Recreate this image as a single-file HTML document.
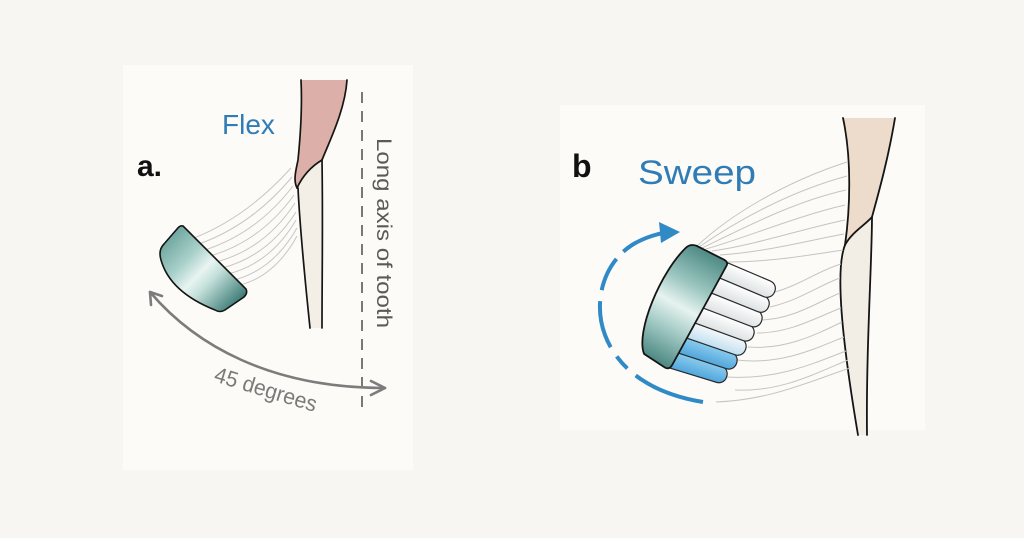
<!DOCTYPE html>
<html>
<head>
<meta charset="utf-8">
<style>
  html,body{margin:0;padding:0;background:#f7f6f3;}
  body{width:1024px;height:538px;overflow:hidden;}
  svg{display:block;}
  text{font-family:"Liberation Sans",Arial,sans-serif;}
</style>
</head>
<body>
<svg width="1024" height="538" viewBox="0 0 1024 538" xmlns="http://www.w3.org/2000/svg">
  <defs>
    <linearGradient id="headA" gradientUnits="userSpaceOnUse" x1="170" y1="236" x2="238" y2="302">
      <stop offset="0" stop-color="#6fa7a0"/>
      <stop offset="0.3" stop-color="#a9d0ca"/>
      <stop offset="0.5" stop-color="#e8f4f1"/>
      <stop offset="0.64" stop-color="#c3dfda"/>
      <stop offset="1" stop-color="#3f7d77"/>
    </linearGradient>
    <linearGradient id="headB" gradientUnits="userSpaceOnUse" x1="0" y1="0" x2="0" y2="122">
      <stop offset="0" stop-color="#4f8b85"/>
      <stop offset="0.3" stop-color="#9cc6c0"/>
      <stop offset="0.5" stop-color="#e6f3f0"/>
      <stop offset="0.7" stop-color="#a6ccc7"/>
      <stop offset="1" stop-color="#4a8680"/>
    </linearGradient>
    <linearGradient id="tw" x1="0" y1="0" x2="0" y2="1">
      <stop offset="0" stop-color="#ffffff"/>
      <stop offset="1" stop-color="#dde2e2"/>
    </linearGradient>
    <linearGradient id="tb" x1="0" y1="0" x2="0" y2="1">
      <stop offset="0" stop-color="#8ccbee"/>
      <stop offset="1" stop-color="#4fa6dc"/>
    </linearGradient>
    <linearGradient id="tlb" x1="0" y1="0" x2="0" y2="1">
      <stop offset="0" stop-color="#f6f8f8"/>
      <stop offset="1" stop-color="#bfe0f2"/>
    </linearGradient>
  </defs>

  <!-- panels -->
  <rect x="123" y="65" width="290" height="405" fill="#fdfbf7"/>
  <rect x="560" y="105" width="365" height="325" fill="#fdfbf7"/>

  <!-- ============ PANEL A ============ -->
  <text x="137" y="176" font-size="30" font-weight="bold" fill="#111">a.</text>
  <text x="222" y="134" font-size="28" fill="#2f7cb6">Flex</text>

  <!-- tooth a -->
  <path d="M322,160 C323,220 322,280 322,328 L310,328 C305,280 300,230 298,188 C303,175 312,166 322,160 Z" fill="#f3efe7"/>
  <path d="M301,80 L347,80 C345,110 330,140 322,160 C312,165 302,175 297,188 C293,180 296,170 298,160 C301,130 302,100 301,80 Z" fill="#dcb0a9"/>
  <g fill="none" stroke="#151515" stroke-width="1.7" stroke-linecap="round">
    <path d="M301,80 C302,100 301,130 298,160 C296,170 293,180 297,188"/>
    <path d="M347,80 C345,110 330,140 322,160"/>
    <path d="M297,188 C303,175 312,166 322,160"/>
    <path d="M298,188 C300,230 305,280 310,328"/>
    <path d="M322,160 C323,220 322,280 322,328"/>
  </g>

  <!-- dashed axis -->
  <line x1="362" y1="92" x2="362" y2="407" stroke="#6a6a6a" stroke-width="1.8" stroke-dasharray="11 8"/>
  <text transform="translate(377,138) rotate(90)" font-size="21" fill="#5a5a5a" textLength="190" lengthAdjust="spacingAndGlyphs">Long axis of tooth</text>

  <!-- bristles a -->
  <g fill="none" stroke="#c6c6c6" stroke-width="1">
    <path d="M194,238 Q247,217 291,168"/>
    <path d="M199,244 Q252,225 292,177"/>
    <path d="M205,250 Q257,233 293,186"/>
    <path d="M210,256 Q261,241 294,195"/>
    <path d="M216,262 Q265,249 295,203"/>
    <path d="M222,268 Q268,256 296,212"/>
    <path d="M228,274 Q271,263 296,220"/>
    <path d="M234,280 Q273,270 297,228"/>
    <path d="M240,285 Q275,276 297,236"/>
  </g>

  <!-- brush head a -->
  <path d="M183,226 L246,289 Q248,293 244,297 L225,310 Q220,313 215,310 C190,300 168,285 161,260 Q158,250 164,244 L177,229 Q180,225 183,226 Z" fill="url(#headA)" stroke="#151515" stroke-width="1.6"/>

  <!-- 45 degrees arrow -->
  <g fill="none" stroke="#7c7c7c" stroke-width="2.6" stroke-linecap="round" stroke-linejoin="round">
    <path d="M150,292 C195,345 270,388 385,388"/>
    <path d="M151,305 L150,292 L162,296"/>
    <path d="M371,381 L385,388 L371,395"/>
  </g>
  <text transform="translate(213,381) rotate(17)" font-size="22" fill="#7a7a7a" textLength="106" lengthAdjust="spacingAndGlyphs">45 degrees</text>

  <!-- ============ PANEL B ============ -->
  <text x="572" y="177" font-size="32" font-weight="bold" fill="#111">b</text>
  <text x="638" y="184" font-size="34" fill="#2f7cb6" textLength="118" lengthAdjust="spacingAndGlyphs">Sweep</text>

  <!-- tooth b -->
  <path d="M843,118 L895,118 C888,160 878,195 872,217 L845,245 C850,210 852,160 843,118 Z" fill="#eddccb"/>
  <path d="M845,245 C835,270 842,340 858,435 L867,435 C866,350 872,260 872,217 Z" fill="#f2eee6"/>
  <g fill="none" stroke="#151515" stroke-width="1.8" stroke-linecap="round">
    <path d="M843,118 C852,160 850,210 845,245"/>
    <path d="M895,118 C888,160 878,195 872,217"/>
    <path d="M845,245 C852,232 864,226 872,217"/>
    <path d="M845,245 C835,270 842,340 858,435"/>
    <path d="M872,217 C872,260 866,350 867,435"/>
  </g>

  <!-- bristles b -->
  <g fill="none" stroke="#c4c4c4" stroke-width="1">
    <path d="M697,246 C730,215 785,182 847,162"/>
    <path d="M699,247 C735,222 788,192 847,176"/>
    <path d="M702,248 C740,230 792,202 846,190"/>
    <path d="M706,249 C745,238 797,216 845,205"/>
    <path d="M712,251 C755,245 802,229 845,220"/>
    <path d="M720,255 C765,252 806,241 844,234"/>
    <path d="M728,262 C770,262 810,255 843,250"/>
    <path d="M775,292 C800,285 820,270 841,264"/>
    <path d="M770,307 C800,300 820,285 840,278"/>
    <path d="M763,320 C795,318 818,302 840,293"/>
    <path d="M757,333 C790,333 815,318 841,308"/>
    <path d="M748,347 C785,350 815,335 842,322"/>
    <path d="M737,360 C780,365 812,350 844,337"/>
    <path d="M727,377 C775,380 810,365 846,351"/>
    <path d="M735,390 C780,392 812,375 848,360"/>
    <path d="M716,402 C770,400 808,382 850,368"/>
  </g>

  <!-- tufts -->
  <g stroke="#2a2a2a" stroke-width="1.2">
    <g transform="translate(674.1,360.5) rotate(17)"><rect x="-12" y="-8.5" width="67" height="17" rx="8" fill="url(#tb)"/></g>
    <g transform="translate(682.4,345.5) rotate(18)"><rect x="-12" y="-8.5" width="69" height="17" rx="8" fill="url(#tb)"/></g>
    <g transform="translate(690.7,330.5) rotate(19)"><rect x="-12" y="-8.5" width="70" height="17" rx="8" fill="url(#tlb)"/></g>
    <g transform="translate(699,315.5) rotate(20)"><rect x="-12" y="-8.5" width="70" height="17" rx="8" fill="url(#tw)"/></g>
    <g transform="translate(707.3,300.5) rotate(21)"><rect x="-12" y="-8.5" width="70" height="17" rx="8" fill="url(#tw)"/></g>
    <g transform="translate(715.6,285.5) rotate(22)"><rect x="-12" y="-8.5" width="69" height="17" rx="8" fill="url(#tw)"/></g>
    <g transform="translate(723.9,270.5) rotate(23)"><rect x="-12" y="-8.5" width="67" height="17" rx="8" fill="url(#tw)"/></g>
  </g>

  <!-- brush head b -->
  <g transform="translate(728,263) rotate(28.7)">
    <path d="M0,3 L0,116 Q0,122 -5,122 L-30,120 C-48,105 -55,40 -44,6 Q-42,1 -36,0 L-5,-1 Q0,-1 0,3 Z" fill="url(#headB)" stroke="#151515" stroke-width="1.8"/>
  </g>

  <!-- sweep arc -->
  <path d="M703,402 C660,395 620,375 605,335 C592,300 605,262 632,245 C645,237 660,233 670,232" fill="none" stroke="#2f8ac6" stroke-width="4" stroke-dasharray="73 11 16 11 48 11 35 10 80"/>
  <path d="M680,232 L659,222 L661,243 Z" fill="#2f8ac6"/>
</svg>
</body>
</html>
